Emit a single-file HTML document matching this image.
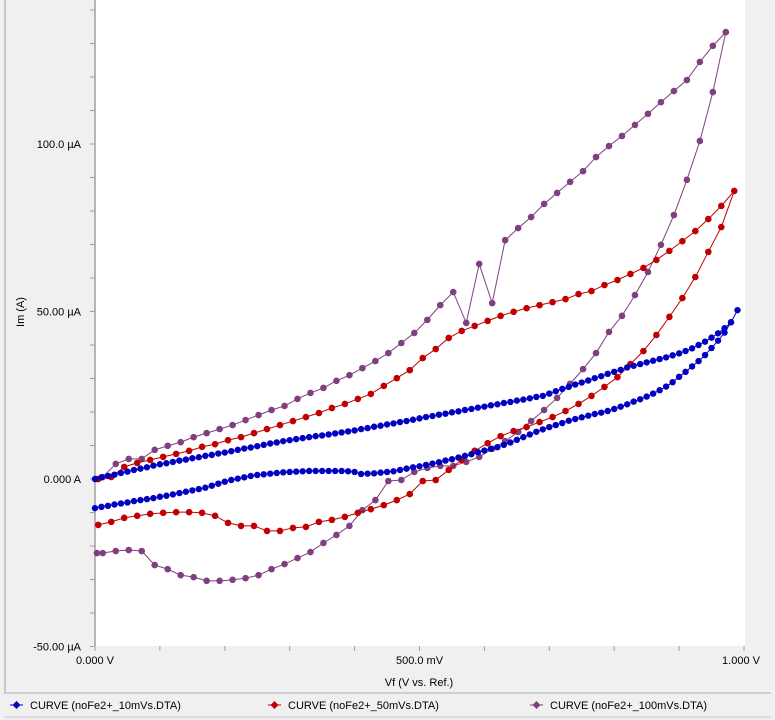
<!DOCTYPE html>
<html><head><meta charset="utf-8"><style>
body{margin:0;background:#f0f0f0;}
#wrap{position:relative;width:775px;height:720px;overflow:hidden;background:#f0f0f0;font-family:"Liberation Sans",sans-serif;}
svg text{font-family:"Liberation Sans",sans-serif;font-size:11px;fill:#000;}
</style></head><body>
<div id="wrap">
<svg id="chart" width="775" height="720"></svg>
</div>
<script>
const blueFwd = [0,0.5,0.9,1.3,1.8,2.2,2.7,3.1,3.5,4.0, 4.4,4.7,5.1,5.5,5.8,6.2,6.5,6.9,7.2,7.6, 7.9,8.3,8.7,9.1,9.4,9.8,10.2,10.6,10.9,11.3, 11.6,11.9,12.2,12.5,12.8,13.0,13.3,13.6,13.9,14.2, 14.5,14.9,15.2,15.6,15.9,16.3,16.6,17.0,17.3,17.7, 18.1,18.5,18.8,19.2,19.5,19.9,20.2,20.6,20.9,21.3, 21.6,22.0,22.3,22.7,23.0,23.4,23.7,24.1,24.5,24.8, 25.5,26.2,26.9,27.5,28.2,28.8,29.4,30.1,30.7,31.4, 32.0,32.6,33.3,33.8,34.3,34.8,35.3,35.8,36.3,36.9, 37.5,38.2,39.0,40.0,41.0,42.2,43.5,45.0,46.8,50.4];
const blueRevAsc = [-8.7,-8.3,-8.0,-7.6,-7.3,-7.0,-6.6,-6.3,-6.0,-5.7, -5.3,-5.0,-4.6,-4.2,-3.8,-3.4,-3.0,-2.6,-2.0,-1.4, -0.8,-0.3,0.1,0.5,0.9,1.2,1.4,1.6,1.8,2.0, 2.1,2.2,2.3,2.4,2.4,2.4,2.4,2.4,2.4,2.3, 2.1,1.5,1.6,1.7,1.9,2.1,2.3,2.7,3.1,3.5, 3.8,4.2,4.6,5.0,5.5,5.9,6.4,6.9,7.4,8.0, 8.5,9.0,9.5,10.2,10.9,11.7,12.5,13.3,14.1,14.8, 15.5,16.1,16.7,17.4,17.9,18.4,18.9,19.4,19.8,20.3, 20.9,21.6,22.3,23.1,23.8,24.6,25.5,26.5,27.6,28.9, 30.5,32.0,33.6,35.2,37.0,39.1,41.3,43.7,46.8];
const redFwd = [0,0.6,3.6,4.8,5.7,6.6,7.5,8.4,9.6,10.4,11.6,12.5,13.7,14.9,16.1,17.3,18.5,19.7,21.2,22.4,23.9,25.4,27.8,30.1,32.5,36.1,38.8,42.1,44.2,45.7,47.2,48.7,49.9,51.0,51.9,52.8,53.7,55.2,56.1,57.9,59.4,61.2,63.0,65.4,68.1,71.0,74.0,77.6,81.5,86.0];
const redRev = [75.2,67.8,60.3,54.0,48.4,43.0,38.2,34.3,30.4,27.5,24.8,22.4,20.3,18.5,17.0,15.5,14.3,12.8,10.7,8.4,5.7,2.7,-0.3,-0.6,-4.5,-6.3,-7.8,-9.0,-10.1,-11.3,-12.2,-12.8,-14.3,-14.6,-15.5,-15.5,-14.0,-14.0,-13.1,-11.0,-10.1,-9.9,-9.9,-10.1,-10.4,-11.0,-11.6,-12.8,-13.7];
const purpFwd = [0.6,4.5,6.0,6.0,8.7,9.9,11.0,12.5,13.7,14.9,16.1,17.6,19.1,20.6,21.8,23.9,25.7,27.2,29.3,31.0,33.1,35.2,37.6,40.6,43.6,47.5,51.9,55.8,46.6,64.2,52.5,71.3,74.9,78.2,82.1,85.4,88.7,91.9,96.1,99.4,102.4,105.7,109.0,112.5,115.8,119.1,124.5,129.3,133.4];
const purpRev = [115.5,100.9,89.3,78.8,69.9,61.8,54.9,48.7,43.9,37.6,32.8,28.4,24.2,20.6,17.3,14.0,11.3,9.0,6.6,5.1,3.9,3.9,3.3,2.1,-0.3,-0.6,-6.3,-9.3,-14.0,-16.7,-19.1,-21.8,-23.6,-25.4,-26.9,-28.7,-29.6,-30.1,-30.4,-30.4,-29.3,-28.7,-26.9,-25.7,-21.5,-21.2,-21.5,-22.1];
const yTickLabels = ["100.0 µA","50.00 µA","0.000 A","-50.00 µA"];
const yTickValues = [100,50,0,-50];
const xTickLabels = ["0.000 V","500.0 mV","1.000 V"];
const xTickValues = [0,0.5,1.0];
const legendNames = ["CURVE (noFe2+_10mVs.DTA)","CURVE (noFe2+_50mVs.DTA)","CURVE (noFe2+_100mVs.DTA)"];

const NS="http://www.w3.org/2000/svg";
const svg=document.getElementById('chart');
const X0=95,X1=744,YZ=479,PX=3.35;
function sx(v){return X0+v*(X1-X0);}
function sy(i){return YZ-i*PX;}
function mk(tag,attrs,parent){const e=document.createElementNS(NS,tag);for(const k in attrs)e.setAttribute(k,attrs[k]);(parent||svg).appendChild(e);return e;}

let e;
e=mk('rect',{x:95,y:0,width:650,height:646,fill:'#fff'});


e=mk('line',{x1:5,y1:0,x2:5,y2:693,stroke:'#a0a0a0'});


e=mk('line',{x1:95,y1:0,x2:95,y2:646,stroke:'#a0a0a0','stroke-width':1.5});


for(let v=-50;v<=140;v+=10){
  e=mk('line',{x1:90,y1:sy(v),x2:95,y2:sy(v),stroke:'#a0a0a0'});
  
  
}
yTickValues.forEach((v,i)=>{
  e=mk('text',{x:81,y:sy(v)+4,'text-anchor':'end'});e.textContent=yTickLabels[i];
  
  
});
for(let k=0;k<=10;k++){
  e=mk('line',{x1:sx(k/10),y1:646,x2:sx(k/10),y2:651,stroke:'#a0a0a0'});
  
  
}
xTickValues.forEach((v,i)=>{
  e=mk('text',{x:sx(v)-(i==2?3:0),y:664,'text-anchor':'middle'});e.textContent=xTickLabels[i];
  
  
});
e=mk('text',{x:419,y:686,'text-anchor':'middle'});e.textContent='Vf (V vs. Ref.)';


e=mk('text',{x:0,y:0,'text-anchor':'middle',transform:'translate(24,312) rotate(-90)'});e.textContent='Im (A)';



function series(pts,color,r,name){
  const g=mk('g',{});
  
  
  mk('polyline',{points:pts.map(p=>sx(p[0])+','+sy(p[1])).join(' '),fill:'none',stroke:color,'stroke-width':1},g);
  pts.forEach(p=>{
    const c=mk('circle',{cx:sx(p[0]),cy:sy(p[1]),r:r,fill:color},g);
    
    
  });
}
let bp=[];blueFwd.forEach((v,i)=>bp.push([i*0.01,v]));
for(let i=blueRevAsc.length-1;i>=0;i--)bp.push([i*0.01,blueRevAsc[i]]);
let rp=[];redFwd.forEach((v,i)=>rp.push([i*0.02+0.005,v]));
redRev.forEach((v,i)=>rp.push([0.965-i*0.02,v]));
let pp=[[0.003,0]];purpFwd.forEach((v,i)=>pp.push([0.012+i*0.02,v]));
purpRev.forEach((v,i)=>pp.push([0.952-i*0.02,v]));
pp.push([0.003,purpRev[purpRev.length-1]]);
series(pp,'#803f7f',3.3,'series-100mvs');
series(rp,'#c00000',3.3,'series-50mvs');
series(bp,'#0000c0',3.2,'series-10mvs');

e=mk('line',{x1:4,y1:693,x2:771,y2:693,stroke:'#b0b0b0'});


const lc=['#0000c0','#c00000','#803f7f'],lx=[10,268,530];
legendNames.forEach((n,i)=>{
  const g=mk('g',{});
  
  
  mk('line',{x1:lx[i],y1:705,x2:lx[i]+13,y2:705,stroke:lc[i]},g);
  mk('polygon',{points:`${lx[i]+6.5},701 ${lx[i]+10.5},705 ${lx[i]+6.5},709 ${lx[i]+2.5},705`,fill:lc[i]},g);
  const t=mk('text',{x:lx[i]+20,y:709},g);t.textContent=n;
});
e=mk('line',{x1:4,y1:717,x2:771,y2:717,stroke:'#c8c8c8'});


</script>
</body></html>
